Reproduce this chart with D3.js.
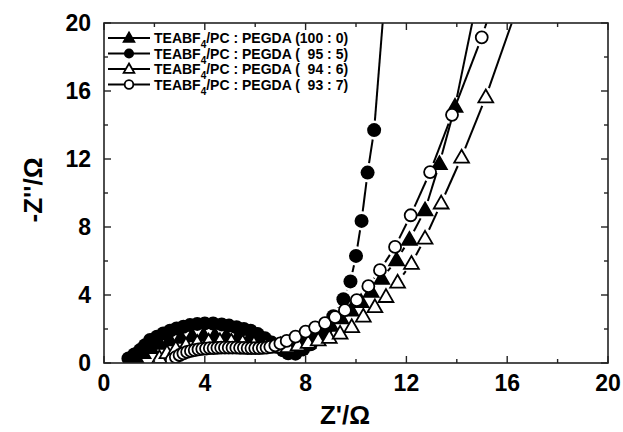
<!DOCTYPE html>
<html>
<head>
<meta charset="utf-8">
<script src="https://cdn.jsdelivr.net/npm/d3@7"></script>
<style>
  html, body { margin: 0; padding: 0; background: #fff; }
  svg text { font-family: "Liberation Sans", Arial, sans-serif; font-weight: bold; }
</style>
</head>
<body>
<svg id="chart" width="623" height="432"></svg>
<script>
// Nyquist plot: four electrolyte compositions
const seriesNames = ["(100 : 0)", "(  95 : 5)", "(  94 : 6)", "(  93 : 7)"];
const markerKinds = ["triangleFilled", "circleFilled", "triangleOpen", "circleOpen"];

// Z' / -Z'' values (ohm)
const zRe100 = [1.3, 1.55, 1.85, 2.2, 2.6, 3.05, 3.5, 3.95, 4.4, 4.85, 5.3, 5.75, 6.2, 6.6, 7.0, 7.4, 7.8, 8.2, 8.6, 9.0, 9.4, 9.8, 10.2, 10.6, 11.02, 11.61, 12.12, 12.74, 13.31, 13.93, 14.75];
const zIm100 = [0.25, 0.6, 0.9, 1.15, 1.35, 1.5, 1.58, 1.62, 1.62, 1.58, 1.5, 1.38, 1.22, 1.1, 1.05, 1.1, 1.3, 1.55, 1.85, 2.2, 2.65, 3.1, 3.6, 4.2, 4.97, 6.05, 7.26, 9.0, 11.72, 15.09, 21];

const zRe95 = [0.97, 1.2, 1.43, 1.63, 1.83, 2.1, 2.35, 2.62, 2.88, 3.15, 3.41, 3.7, 4.0, 4.33, 4.67, 4.96, 5.26, 5.55, 5.82, 6.1, 6.39, 6.65, 6.9, 7.1, 7.31, 7.6, 7.9, 8.2, 8.5, 8.8, 9.1, 9.5, 9.78, 10.0, 10.22, 10.46, 10.72, 11.1];
const zIm95 = [0.27, 0.5, 0.76, 1.05, 1.35, 1.55, 1.74, 1.9, 2.03, 2.13, 2.23, 2.3, 2.33, 2.32, 2.27, 2.2, 2.1, 2.0, 1.9, 1.7, 1.45, 1.2, 0.95, 0.75, 0.57, 0.55, 0.8, 1.1, 1.5, 2.0, 2.75, 3.75, 4.8, 6.3, 8.36, 11.2, 13.7, 20.8];

const zRe94 = [2.2, 2.5, 2.85, 3.25, 3.7, 4.15, 4.6, 5.05, 5.5, 5.95, 6.4, 6.85, 7.3, 7.7, 8.1, 8.5, 8.94, 9.37, 9.83, 10.29, 10.75, 11.19, 11.65, 12.2, 12.74, 13.38, 14.19, 15.15, 16.3];
const zIm94 = [0.3, 0.6, 0.85, 1.05, 1.2, 1.28, 1.3, 1.28, 1.22, 1.12, 1.0, 0.92, 0.95, 1.05, 1.2, 1.35, 1.5, 1.74, 2.13, 2.75, 3.3, 3.9, 4.75, 5.85, 7.33, 9.4, 12.1, 15.64, 20.5];

const zRe93 = [2.69, 2.85, 3.0, 3.15, 3.3, 3.45, 3.6, 3.75, 3.9, 4.05, 4.2, 4.35, 4.5, 4.65, 4.8, 4.95, 5.1, 5.25, 5.4, 5.55, 5.7, 5.85, 6.0, 6.15, 6.3, 6.45, 6.6, 6.8, 7.0, 7.25, 7.6, 8.0, 8.38, 8.77, 9.17, 9.56, 10.03, 10.49, 10.95, 11.55, 12.17, 12.94, 13.81, 14.99, 15.4];
const zIm93 = [0.18, 0.35, 0.47, 0.57, 0.65, 0.71, 0.76, 0.8, 0.83, 0.85, 0.87, 0.88, 0.89, 0.9, 0.9, 0.9, 0.9, 0.9, 0.89, 0.89, 0.88, 0.88, 0.88, 0.88, 0.89, 0.91, 0.95, 1.03, 1.15, 1.3, 1.55, 1.85, 2.1, 2.35, 2.7, 3.11, 3.7, 4.52, 5.46, 6.83, 8.69, 11.23, 14.6, 19.16, 21];

const majorTicks = [0, 4, 8, 12, 16, 20];
const minorTicks = [2, 6, 10, 14, 18];

const series = [
  { name: seriesNames[0], kind: markerKinds[0], re: zRe100, im: zIm100 },
  { name: seriesNames[1], kind: markerKinds[1], re: zRe95, im: zIm95 },
  { name: seriesNames[2], kind: markerKinds[2], re: zRe94, im: zIm94 },
  { name: seriesNames[3], kind: markerKinds[3], re: zRe93, im: zIm93 }
];

const svg = d3.select("#chart");
const plot = { left: 104, right: 608, top: 23, bottom: 363 };

const x = d3.scaleLinear().domain([0, 20]).range([plot.left, plot.right]);
const y = d3.scaleLinear().domain([0, 20]).range([plot.bottom, plot.top]);

svg.append("defs").append("clipPath").attr("id", "clip")
  .append("rect")
  .attr("x", plot.left).attr("y", plot.top)
  .attr("width", plot.right - plot.left).attr("height", plot.bottom - plot.top);

// marker drawing, scale 1 = plot size
function drawMarker(g, kind, cx, cy, k = 1) {
  if (kind.startsWith("circle")) {
    const filled = kind === "circleFilled";
    g.append("circle")
      .attr("cx", cx).attr("cy", cy)
      .attr("r", (filled ? 7 : 6) * k)
      .attr("fill", filled ? "#000" : "#fff")
      .attr("stroke", "#000").attr("stroke-width", filled ? 0 : 1.8);
  } else {
    g.append("path")
      .attr("d", d3.symbol().type(d3.symbolTriangle).size(95 * k * k)())
      .attr("transform", `translate(${cx},${cy + k})`)
      .attr("fill", kind === "triangleFilled" ? "#000" : "#fff")
      .attr("stroke", "#000").attr("stroke-width", 1.8);
  }
}

// lines with small gaps around markers
const dataG = svg.append("g").attr("clip-path", "url(#clip)");
series.forEach(s => {
  const pts = s.re.map((v, i) => [x(v), y(s.im[i])]);
  const lg = dataG.append("g");
  for (let i = 0; i < pts.length - 1; i++) {
    const [x1, y1] = pts[i], [x2, y2] = pts[i + 1];
    const len = Math.hypot(x2 - x1, y2 - y1);
    const gap = 9.5;
    if (len <= gap * 2) continue;
    const ux = (x2 - x1) / len, uy = (y2 - y1) / len;
    lg.append("line")
      .attr("x1", x1 + ux * gap).attr("y1", y1 + uy * gap)
      .attr("x2", x2 - ux * gap).attr("y2", y2 - uy * gap)
      .attr("stroke", "#000").attr("stroke-width", 2);
  }
  const mg = dataG.append("g");
  pts.forEach(p => drawMarker(mg, s.kind, p[0], p[1]));
});

// frame + ticks
const axG = svg.append("g");
axG.append("rect")
  .attr("x", plot.left).attr("y", plot.top)
  .attr("width", plot.right - plot.left).attr("height", plot.bottom - plot.top)
  .attr("fill", "none").attr("stroke", "#222").attr("stroke-width", 1.6);

const tickStroke = (sel) => sel.attr("stroke", "#222").attr("stroke-width", 1.4);
majorTicks.concat(minorTicks).forEach(t => {
  const len = majorTicks.includes(t) ? 7 : 4;
  axG.append("line").call(tickStroke).attr("x1", x(t)).attr("x2", x(t)).attr("y1", plot.bottom).attr("y2", plot.bottom - len);
  axG.append("line").call(tickStroke).attr("x1", x(t)).attr("x2", x(t)).attr("y1", plot.top).attr("y2", plot.top + len);
  axG.append("line").call(tickStroke).attr("y1", y(t)).attr("y2", y(t)).attr("x1", plot.left).attr("x2", plot.left + len);
  axG.append("line").call(tickStroke).attr("y1", y(t)).attr("y2", y(t)).attr("x1", plot.right).attr("x2", plot.right - len);
});

majorTicks.forEach(t => {
  axG.append("text").attr("x", x(t)).attr("y", plot.bottom + 28)
    .attr("text-anchor", "middle").attr("font-size", 23).text(t);
  axG.append("text").attr("x", plot.left - 13).attr("y", y(t) + 8)
    .attr("text-anchor", "end").attr("font-size", 23).text(t);
});

// axis titles
svg.append("text").attr("x", 345).attr("y", 424)
  .attr("text-anchor", "middle").attr("font-size", 26).text("Z'/Ω");
svg.append("text").attr("transform", "translate(42,190) rotate(-90)")
  .attr("text-anchor", "middle").attr("font-size", 26).text("-Z''/Ω");

// legend
const legG = svg.append("g");
series.forEach((s, i) => {
  const ly = 38 + i * 15.5;
  legG.append("line").attr("x1", 108).attr("x2", 150).attr("y1", ly).attr("y2", ly)
    .attr("stroke", "#000").attr("stroke-width", 2);
  drawMarker(legG, s.kind, 129, ly, 0.72);
  const t = legG.append("text").attr("x", 154).attr("y", ly + 5)
    .attr("font-size", 14).style("white-space", "pre");
  t.append("tspan").text("TEABF");
  t.append("tspan").attr("font-size", 10).attr("dy", 5).text("4");
  t.append("tspan").attr("dy", -5).text("/PC : PEGDA " + s.name);
});
</script>
</body>
</html>
